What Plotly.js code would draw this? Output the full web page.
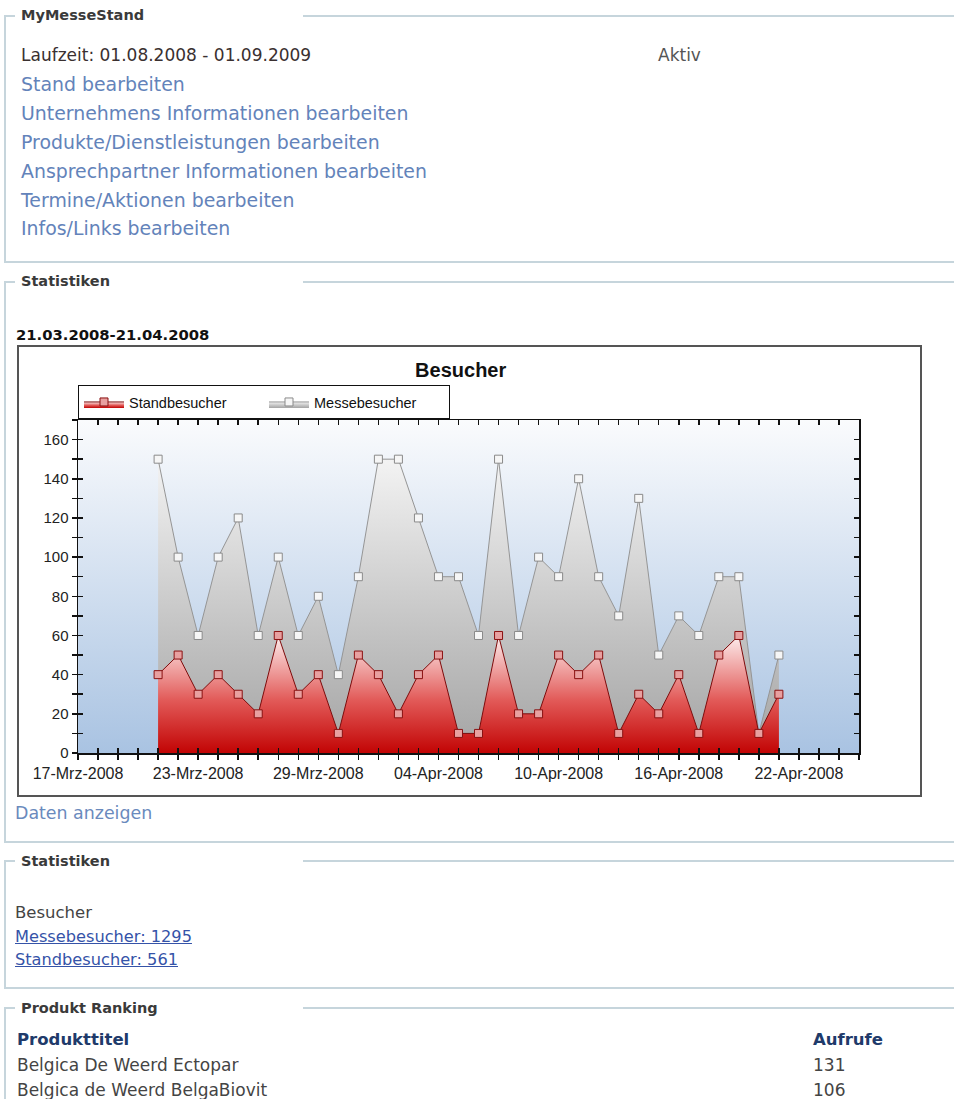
<!DOCTYPE html>
<html><head><meta charset="utf-8">
<script src="https://cdn.plot.ly/plotly-3.0.1.min.js"></script>
<style>
html,body{margin:0;padding:0;background:#fff;width:954px;height:1099px;overflow:hidden;font-family:"DejaVu Sans",Verdana,sans-serif;}
.t{position:absolute;white-space:nowrap;line-height:20px;}
.h{font-weight:bold;font-size:14.5px;color:#3a3a3a;left:21px;}
.ln{position:absolute;background:#c6d5dc;}
.lk{color:#6383ba;font-size:18.9px;left:21px;}
.body{color:#444;font-size:16.5px;}
.ul{color:#3553a8;text-decoration:underline;font-size:16.2px;left:15px;}
.rk{color:#444;font-size:17px;}
.th{color:#203a6a;font-weight:bold;font-size:16.5px;}
#chart{position:absolute;left:17px;top:345px;width:901px;height:448px;border:2px solid #555;background:#fff;}
</style></head>
<body>
<!-- section borders -->
<div class="ln" style="left:4px;top:15px;width:2px;height:248px"></div>
<div class="ln" style="left:4px;top:15px;width:11px;height:2px"></div>
<div class="ln" style="left:303px;top:15px;width:651px;height:2px"></div>
<div class="ln" style="left:4px;top:261px;width:950px;height:2px"></div>

<div class="ln" style="left:4px;top:281px;width:2px;height:562px"></div>
<div class="ln" style="left:4px;top:281px;width:11px;height:2px"></div>
<div class="ln" style="left:303px;top:281px;width:651px;height:2px"></div>
<div class="ln" style="left:4px;top:841px;width:950px;height:2px"></div>

<div class="ln" style="left:4px;top:860px;width:2px;height:129px"></div>
<div class="ln" style="left:4px;top:860px;width:11px;height:2px"></div>
<div class="ln" style="left:303px;top:860px;width:651px;height:2px"></div>
<div class="ln" style="left:4px;top:987px;width:950px;height:2px"></div>

<div class="ln" style="left:4px;top:1007px;width:2px;height:92px"></div>
<div class="ln" style="left:4px;top:1007px;width:11px;height:2px"></div>
<div class="ln" style="left:303px;top:1007px;width:651px;height:2px"></div>

<!-- section 1 -->
<div class="t h" style="top:5px">MyMesseStand</div>
<div class="t" style="left:21px;top:45px;font-size:17px;color:#3a3030">Laufzeit: 01.08.2008 - 01.09.2009</div>
<div class="t" style="left:658px;top:45px;font-size:17px;color:#555">Aktiv</div>
<div class="t lk" style="top:74px">Stand bearbeiten</div>
<div class="t lk" style="top:103px">Unternehmens Informationen bearbeiten</div>
<div class="t lk" style="top:132px">Produkte/Dienstleistungen bearbeiten</div>
<div class="t lk" style="top:161px">Ansprechpartner Informationen bearbeiten</div>
<div class="t lk" style="top:190px">Termine/Aktionen bearbeiten</div>
<div class="t lk" style="top:218px">Infos/Links bearbeiten</div>

<!-- section 2 -->
<div class="t h" style="top:271px">Statistiken</div>
<div class="t" style="left:16px;top:325px;font-size:14.8px;font-weight:bold;color:#111">21.03.2008-21.04.2008</div>
<div id="chart"></div>
<div class="t" style="left:15px;top:803px;font-size:17.4px;color:#6a8abd">Daten anzeigen</div>

<!-- section 3 -->
<div class="t h" style="top:851px">Statistiken</div>
<div class="t body" style="left:15px;top:903px">Besucher</div>
<div class="t ul" style="top:927px">Messebesucher: 1295</div>
<div class="t ul" style="top:950px">Standbesucher: 561</div>

<!-- section 4 -->
<div class="t h" style="top:998px">Produkt Ranking</div>
<div class="t th" style="left:17px;top:1030px">Produkttitel</div>
<div class="t th" style="left:813px;top:1030px">Aufrufe</div>
<div class="t rk" style="left:17px;top:1055px">Belgica De Weerd Ectopar</div>
<div class="t rk" style="left:813px;top:1055px">131</div>
<div class="t rk" style="left:17px;top:1080px">Belgica de Weerd BelgaBiovit</div>
<div class="t rk" style="left:813px;top:1080px">106</div>

<script>
const dates = ['2008-03-21','2008-03-22','2008-03-23','2008-03-24','2008-03-25','2008-03-26','2008-03-27','2008-03-28','2008-03-29','2008-03-30','2008-03-31','2008-04-01','2008-04-02','2008-04-03','2008-04-04','2008-04-05','2008-04-06','2008-04-07','2008-04-08','2008-04-09','2008-04-10','2008-04-11','2008-04-12','2008-04-13','2008-04-14','2008-04-15','2008-04-16','2008-04-17','2008-04-18','2008-04-19','2008-04-20','2008-04-21'];
const messebesucher = [150,100,60,100,120,60,100,60,80,40,90,150,150,120,90,90,60,150,60,100,90,140,90,70,130,50,70,60,90,90,10,50];
const standbesucher = [40,50,30,40,30,20,60,30,40,10,50,40,20,40,50,10,10,60,20,20,50,40,50,10,30,20,40,10,50,60,10,30];
const tickDates = ['2008-03-17','2008-03-23','2008-03-29','2008-04-04','2008-04-10','2008-04-16','2008-04-22'];
const tickLabels = ['17-Mrz-2008','23-Mrz-2008','29-Mrz-2008','04-Apr-2008','10-Apr-2008','16-Apr-2008','22-Apr-2008'];
const yTicks = [0,20,40,60,80,100,120,140,160];
const xRange = ['2008-03-17','2008-04-25'];
const yRange = [0,170];

const DAY = 86400000;
const axisCol = '#111';
const font = 'Liberation Sans, Arial, sans-serif';

const traces = [
  {x:dates, y:messebesucher, type:'scatter', mode:'lines+markers', name:'Messebesucher',
   fill:'tozeroy',
   fillgradient:{type:'vertical', start:0, stop:150, colorscale:[[0,'#a4a4a4'],[0.4,'#c2c2c2'],[1,'#f3f3f3']]},
   line:{color:'#959595', width:1},
   marker:{symbol:'square', size:8, color:'#f6f6f6', line:{color:'#8a8a8a', width:1}},
   hoverinfo:'skip'},
  {x:dates, y:standbesucher, type:'scatter', mode:'lines+markers', name:'Standbesucher',
   fill:'tozeroy',
   fillgradient:{type:'vertical', start:0, stop:60, colorscale:[[0,'#c20404'],[0.45,'#e25a58'],[1,'#fdeeee']]},
   line:{color:'#7d0b0b', width:1},
   marker:{symbol:'square', size:8, color:'#e8a0a0', line:{color:'#8a1010', width:1}},
   hoverinfo:'skip'},
  {x:[], y:[], xaxis:'x2', yaxis:'y', showlegend:false, hoverinfo:'skip', type:'scatter'},
  {x:[], y:[], xaxis:'x3', yaxis:'y', showlegend:false, hoverinfo:'skip', type:'scatter'},
  {x:[], y:[], xaxis:'x', yaxis:'y2', showlegend:false, hoverinfo:'skip', type:'scatter'},
  {x:[], y:[], xaxis:'x', yaxis:'y3', showlegend:false, hoverinfo:'skip', type:'scatter'}
];

const bgSvg = "<svg xmlns='http://www.w3.org/2000/svg' width='10' height='100' preserveAspectRatio='none'><defs><linearGradient id='g' x1='0' y1='0' x2='0' y2='1'><stop offset='0' stop-color='#fafbfd'/><stop offset='1' stop-color='#a9c3e2'/></linearGradient></defs><rect width='10' height='100' fill='url(#g)'/></svg>";

const tickOverlayX = (side) => ({type:'date', range:xRange, overlaying:'x', anchor:'y', side:side,
  tickmode:'linear', tick0:xRange[0], dtick:DAY, ticks:'inside', ticklen:5, tickwidth:1.5, tickcolor:axisCol,
  showticklabels:false, showline:false, showgrid:false, zeroline:false, fixedrange:true});
const tickOverlayY = (side) => ({range:yRange, overlaying:'y', anchor:'x', side:side,
  tickmode:'linear', tick0:0, dtick:10, ticks:'inside', ticklen:5, tickwidth:1.5, tickcolor:axisCol,
  showticklabels:false, showline:false, showgrid:false, zeroline:false, fixedrange:true});

const layout = {
  width:901, height:448,
  margin:{l:59, r:61, t:73, b:42, pad:0},
  paper_bgcolor:'#fff', plot_bgcolor:'rgba(0,0,0,0)',
  title:{text:'<b>Besucher</b>', font:{family:font, size:20, color:'#111'}, x:0.49, xref:'paper', xanchor:'center', y:0.949, yref:'container', yanchor:'middle'},
  showlegend:true,
  legend:{orientation:'h', x:0, xanchor:'left', y:1.105, yanchor:'top', bgcolor:'#fff', bordercolor:'#111', borderwidth:1,
    font:{family:font, size:14.5, color:'#111'}, traceorder:'reversed', itemwidth:40, entrywidth:130},
  xaxis:{type:'date', range:xRange, tickmode:'array', tickvals:tickDates, ticktext:tickLabels,
    ticks:'outside', ticklen:5, tickwidth:1.5, tickcolor:axisCol,
    minor:{tickmode:'linear', tick0:xRange[0], dtick:DAY, ticks:'outside', ticklen:5, tickwidth:1.5, tickcolor:axisCol, showgrid:false},
    showline:true, linecolor:axisCol, linewidth:1.5, mirror:true, showgrid:false, zeroline:false,
    tickfont:{family:font, size:16, color:'#222'}, fixedrange:true},
  xaxis2:tickOverlayX('bottom'),
  xaxis3:tickOverlayX('top'),
  yaxis:{range:yRange, tickmode:'array', tickvals:yTicks, ticktext:yTicks.map(String),
    ticks:'outside', ticklen:5, tickwidth:1.5, tickcolor:axisCol,
    minor:{tickmode:'linear', tick0:0, dtick:10, ticks:'outside', ticklen:5, tickwidth:1.5, tickcolor:axisCol, showgrid:false},
    showline:true, linecolor:axisCol, linewidth:1.5, mirror:true, showgrid:false, zeroline:false,
    tickfont:{family:font, size:15, color:'#222'}, fixedrange:true},
  yaxis2:tickOverlayY('left'),
  yaxis3:tickOverlayY('right'),
  images:[{source:'data:image/svg+xml;charset=utf-8,'+encodeURIComponent(bgSvg), xref:'paper', yref:'paper',
    x:0, y:1, sizex:1, sizey:1, xanchor:'left', yanchor:'top', sizing:'stretch', layer:'below'}]
};

Plotly.newPlot('chart', traces, layout, {staticPlot:true, displayModeBar:false});
</script>
</body></html>
